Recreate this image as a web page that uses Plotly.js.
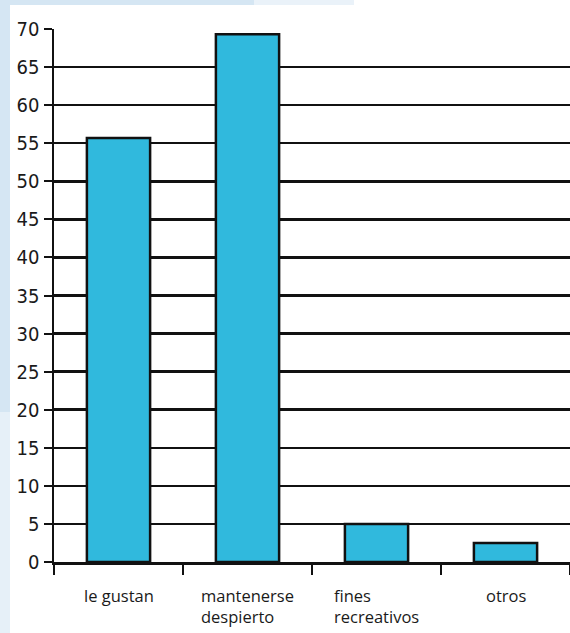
<!DOCTYPE html>
<html>
<head>
<meta charset="utf-8">
<script src="https://cdn.plot.ly/plotly-3.0.1.min.js"></script>
<style>
  html, body { margin: 0; padding: 0; background: #ffffff; }
  #chart { width: 570px; height: 633px; }
</style>
</head>
<body>
<div id="chart"></div>
<script>
// Motivos de consumo (porcentaje de respuestas)
const categories = ["le gustan", "mantenerse despierto", "fines recreativos", "otros"];
const labelLines = ["le gustan", "mantenerse<br>despierto", "fines<br>recreativos", "otros"];
const values = [55.7, 69.3, 5, 2.5];
const yTicks = [0, 5, 10, 15, 20, 25, 30, 35, 40, 45, 50, 55, 60, 65, 70];

const barTrace = {
  type: "bar",
  x: categories,
  y: values,
  width: 0.49,
  marker: {
    color: "#30b9dd",
    line: { color: "#111111", width: 2.5 }
  },
  hoverinfo: "x+y"
};

// category labels drawn as annotations so multi-line text stays left-aligned
const labelAnnotations = categories.map((c, i) => ({
  x: c,
  xref: "x",
  y: 0,
  yref: "paper",
  yanchor: "top",
  yshift: -20,
  text: labelLines[i],
  align: "left",
  showarrow: false,
  font: { family: "Open Sans, Noto Sans, sans-serif", size: 16.5, color: "#1a1a1a" }
}));

// pale blue page edge on the left and top
const edgeShapes = [
  { type: "rect", xref: "paper", yref: "paper", layer: "below",
    x0: -54 / 516, x1: -44 / 516, y0: -71 / 533, y1: 604 / 533,
    fillcolor: "#d5e6f3", line: { width: 0 } },
  { type: "rect", xref: "paper", yref: "paper", layer: "below",
    x0: -54 / 516, x1: -44 / 516, y0: -71 / 533, y1: 150 / 533,
    fillcolor: "#e6f0f8", line: { width: 0 } },
  { type: "rect", xref: "paper", yref: "paper", layer: "below",
    x0: -54 / 516, x1: 200 / 516, y0: 533 / 533 + 24 / 533, y1: 604 / 533,
    fillcolor: "#d5e6f3", line: { width: 0 } },
  { type: "rect", xref: "paper", yref: "paper", layer: "below",
    x0: 200 / 516, x1: 300 / 516, y0: 533 / 533 + 24 / 533, y1: 604 / 533,
    fillcolor: "#eaf2f9", line: { width: 0 } }
];

const layout = {
  width: 570,
  height: 633,
  margin: { l: 54, r: 0, t: 29, b: 71 },
  paper_bgcolor: "#ffffff",
  plot_bgcolor: "#ffffff",
  showlegend: false,
  xaxis: {
    type: "category",
    range: [-0.5, 3.5],
    showticklabels: false,
    tickson: "boundaries",
    ticks: "outside",
    ticklen: 10,
    tickwidth: 2,
    tickcolor: "#111111",
    showgrid: false,
    showline: true,
    linecolor: "#111111",
    linewidth: 2.5,
    fixedrange: true
  },
  yaxis: {
    range: [0, 70],
    tickmode: "array",
    tickvals: yTicks,
    ticktext: yTicks.map(String),
    ticks: "outside",
    ticklen: 8,
    tickwidth: 2,
    tickcolor: "#111111",
    showgrid: true,
    gridcolor: "#111111",
    gridwidth: 2.5,
    zeroline: false,
    showline: true,
    linecolor: "#111111",
    linewidth: 2.5,
    tickfont: { family: "Liberation Sans Narrow, DejaVu Sans Condensed, sans-serif", size: 20, color: "#1a1a1a" },
    fixedrange: true
  },
  annotations: labelAnnotations,
  shapes: edgeShapes
};

Plotly.newPlot("chart", [barTrace], layout, { displayModeBar: false, staticPlot: true });
</script>
</body>
</html>
